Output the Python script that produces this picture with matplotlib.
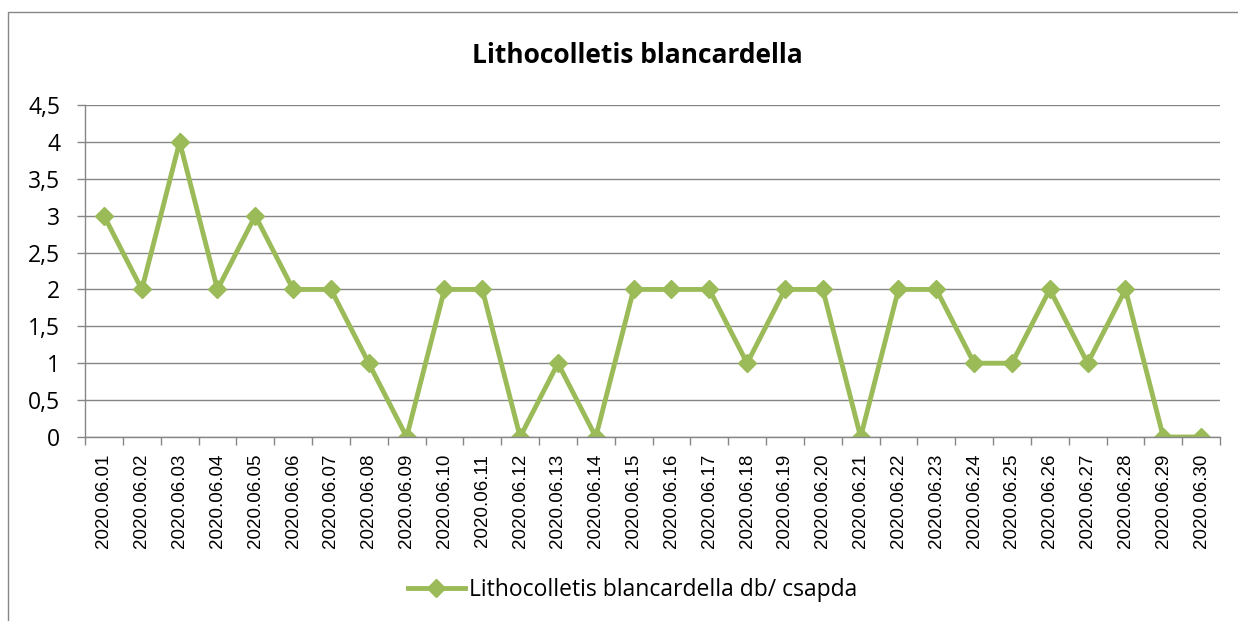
import matplotlib
matplotlib.use("Agg")
import matplotlib.pyplot as plt
from matplotlib.patches import Rectangle
from matplotlib.ticker import FixedLocator, FuncFormatter

dates = ["2020.06.%02d" % d for d in range(1, 31)]
values = [3, 2, 4, 2, 3, 2, 2, 1, 0, 2, 2, 0, 1, 0, 2, 2, 2, 1, 2, 2,
          0, 2, 2, 1, 1, 2, 1, 2, 0, 0]

plt.rcParams['font.family'] = ['Open Sans', 'DejaVu Sans']
green = "#9BBB59"
grey = "#868686"

fig = plt.figure(figsize=(12.38, 6.21), dpi=100)
ax = fig.add_axes([0.0687, 0.2963, 0.9168, 0.5346])

x = list(range(len(dates)))
ax.plot(x, values, color=green, linewidth=3.5, marker="D", markersize=9.5,
        label="Lithocolletis blancardella db/ csapda", solid_joinstyle="miter")

ax.set_xlim(-0.5, len(dates) - 0.5)
ax.set_ylim(0, 4.5)
ax.set_yticks([i * 0.5 for i in range(10)])
ax.yaxis.set_major_formatter(FuncFormatter(lambda v, p: ("%g" % v).replace(".", ",")))
ax.grid(True, axis="y", color=grey, linewidth=1)
ax.set_axisbelow(True)

ax.set_xticks(x)
ax.set_xticklabels(dates, rotation=90, fontsize=13.5, family="Liberation Sans")
ax.xaxis.set_minor_locator(FixedLocator([i - 0.5 for i in range(len(dates) + 1)]))
ax.tick_params(axis="x", which="major", length=0, pad=12)
ax.tick_params(axis="x", which="minor", length=6, color=grey, width=1)
ax.tick_params(axis="y", length=6, color=grey, width=1, labelsize=16.5, pad=12)

for s in ["top", "right"]:
    ax.spines[s].set_visible(False)
for s in ["left", "bottom"]:
    ax.spines[s].set_color(grey)
    ax.spines[s].set_linewidth(1)

fig.text(0.5145, 0.911, "Lithocolletis blancardella", fontsize=19, fontweight="bold",
         ha="center", va="center")

fig.legend(loc="center", bbox_to_anchor=(0.511, 0.05), frameon=False, fontsize=16.5,
           handlelength=2.5, handletextpad=0.2)

fig.patches.append(Rectangle((8 / 1238, -0.1), 1.2, (621 - 12) / 621 + 0.1,
                             transform=fig.transFigure, fill=False,
                             edgecolor=grey, linewidth=1))

fig.savefig("out.png", dpi=100)
